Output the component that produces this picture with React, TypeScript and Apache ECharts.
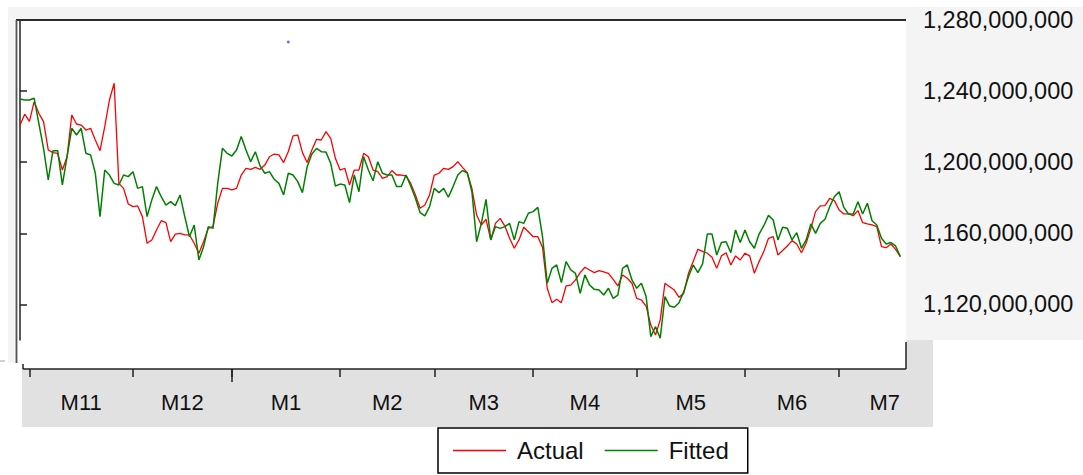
import React, { useEffect, useRef } from "react";
import * as echarts from "echarts";

// Month labels and first-observation index of each month (weekday series)
const monthNames = ["M11", "M12", "M1", "M2", "M3", "M4", "M5", "M6", "M7"];
const monthStarts = [2, 24, 45, 68, 88, 109, 131, 154, 174];
const monthDays = [22, 21, 23, 20, 21, 22, 23, 20, 23];
const yearStarts = [45];
const yTicks = [1120e6, 1160e6, 1200e6, 1240e6, 1280e6];

// Values in millions
const actualM = [
  1221, 1227, 1223, 1234, 1227.5, 1222.8, 1206.9, 1205.4, 1205, 1195.6,
  1203.1, 1226.6, 1221.5, 1220.9, 1218.1, 1219.1, 1212.5, 1206.5, 1220, 1235,
  1244.4, 1188.1, 1185.3, 1176.5, 1175, 1175.4, 1169.4, 1154.4, 1156.3, 1161.9,
  1167.1, 1166, 1155.3, 1159.6, 1160, 1159.1, 1159.1, 1154.4, 1148.8, 1155.3,
  1162.8, 1163.8, 1176.9, 1185.3, 1185.3, 1184.4, 1185.3, 1192.8, 1196.6, 1196,
  1197.1, 1196, 1198.4, 1203.1, 1204.6, 1204.1, 1199.8, 1206, 1214.8, 1215.3,
  1205.4, 1199.8, 1206.9, 1212.9, 1212.5, 1217.2, 1213.4, 1202.2, 1195.6, 1196.6,
  1187.2, 1195.6, 1195.6, 1205, 1203.1, 1195.6, 1194.7, 1190.9, 1191.9, 1195.3,
  1192.8, 1192.8, 1192.3, 1188.1, 1181.6, 1174.1, 1175.9, 1181.6, 1192.8, 1193.8,
  1196.6, 1196, 1197.5, 1200.3, 1197.1, 1194.1, 1185.3, 1170.3, 1164.7, 1167.9,
  1156.3, 1165.6, 1168.4, 1164.1, 1157.2, 1151.6, 1156.3, 1163.4, 1160.9, 1158.1,
  1158.1, 1152.1, 1129.1, 1121, 1122.9, 1121, 1130.4, 1130.9, 1133.8, 1137.9,
  1140.9, 1139.4, 1137.9, 1139, 1138.3, 1137.5, 1134.1, 1130.4, 1136.6, 1134.7,
  1131.9, 1123.4, 1122.5, 1119.1, 1108.4, 1102.8, 1111.3, 1131.9, 1130, 1128.1,
  1124, 1126.3, 1137.5, 1144.1, 1151, 1149.9, 1148.8, 1146.5, 1140.3, 1147.3,
  1149.1, 1142.2, 1147.3, 1145, 1148.8, 1147.3, 1137.5, 1144.1, 1149.7, 1157.2,
  1158.1, 1147.8, 1150.3, 1152.9, 1155.9, 1154, 1149.1, 1154.4, 1162.8, 1172.2,
  1175.4, 1175.6, 1179.7, 1178.4, 1173.1, 1170.9, 1170.9, 1169.9, 1172.8, 1166,
  1165.3, 1164.7, 1163.8, 1152.5, 1151.9, 1154, 1151, 1146.9,
];

const fittedM = [
  1235.6, 1235, 1235, 1236, 1221.9, 1207.8, 1190, 1206.5, 1206.5, 1187.2,
  1203.1, 1219.1, 1215.3, 1219.1, 1205, 1204.1, 1193.8, 1169.4, 1195.6, 1192.8,
  1188.1, 1187.2, 1192.8, 1191.9, 1194.7, 1185.3, 1186.3, 1169.4, 1178.8, 1186.3,
  1180.6, 1175.9, 1177.8, 1175.6, 1181.6, 1169.4, 1158.1, 1164.7, 1145, 1152.5,
  1163.8, 1162.8, 1188.1, 1207.8, 1205, 1203.5, 1206.9, 1214.4, 1206.9, 1200.3,
  1205.9, 1197.9, 1193.8, 1194.7, 1190.4, 1188.1, 1181.6, 1193.8, 1192.8, 1189.1,
  1182.9, 1197.5, 1204.6, 1207.8, 1205.9, 1205.7, 1199.4, 1186.6, 1187.7, 1187.2,
  1177.3, 1192.8, 1183.4, 1203.1, 1195.6, 1189.6, 1200.3, 1193.8, 1192.8, 1192.8,
  1186.3, 1186.3, 1192.8, 1186.6, 1179.7, 1171.6, 1169.8, 1175, 1185.3, 1182.9,
  1185.3, 1180.3, 1186.3, 1192.8, 1195.3, 1194.1, 1183.4, 1155.3, 1165.6, 1179.1,
  1156.3, 1163.8, 1162.8, 1163.8, 1165.6, 1156.3, 1166.6, 1165.6, 1171.3, 1172.2,
  1174.6, 1158.1, 1131.9, 1140.3, 1142.2, 1132.3, 1144.1, 1139.4, 1137.5, 1126.3,
  1136.6, 1130.9, 1128.5, 1128.1, 1125.3, 1129.1, 1123.4, 1125.3, 1140.3, 1142.2,
  1133.8, 1129.1, 1131.9, 1124.4, 1101.9, 1107.5, 1101, 1124.4, 1119.1, 1118.4,
  1121, 1127.2, 1135.6, 1142.2, 1137.9, 1142.8, 1159.6, 1159.6, 1147.8, 1154.8,
  1155.3, 1149.1, 1161.9, 1154.8, 1161.9, 1155.3, 1151.6, 1159.6, 1164.3, 1170.1,
  1167.5, 1156.3, 1163.4, 1162.8, 1156.3, 1160.4, 1151.6, 1156.3, 1165.3, 1160,
  1165.6, 1167.9, 1175, 1180.6, 1183.4, 1174.6, 1170.9, 1170.9, 1177.8, 1170.9,
  1176.9, 1167.1, 1164.7, 1157.2, 1154, 1154.8, 1152.9, 1146.9,
];

// stray blue point in the original picture: [index, value in millions]
const strayPoint = [57, 1267.6];

const FONT = "'Liberation Sans', Arial, sans-serif";

export default function App() {
  const ref = useRef<HTMLDivElement>(null);

  useEffect(() => {
    if (!ref.current) return;
    const chart = echarts.init(ref.current, undefined, { renderer: "svg" });
    const n = actualM.length;
    const xMin = -0.85;
    const xMax = n - 1 + 1.21;
    const lastCenter = n - 1 - 3.3;
    const labelCenters = monthStarts.map((s, k) => Math.min(s + monthDays[k] / 2, lastCenter));
    const labelFor = (v: number) => {
      for (let k = 0; k < labelCenters.length; k++) {
        if (Math.abs(labelCenters[k] - v) < 0.01) return monthNames[k];
      }
      return "";
    };

    const gl = 16, gt = 20, gw = 890, gh = 320;

    chart.setOption({
      animation: false,
      backgroundColor: "#ffffff",
      grid: { left: gl, top: gt, width: gw, height: gh, containLabel: false, outerBoundsMode: "none" },
      xAxis: [
        {
          type: "value",
          min: xMin,
          max: xMax,
          position: "bottom",
          offset: 29,
          splitLine: { show: false },
          axisLine: { show: false },
          axisTick: {
            show: true,
            customValues: monthStarts,
            length: 8,
            lineStyle: { color: "#222", width: 1.5 },
          },
          axisLabel: {
            show: true,
            customValues: labelCenters,
            formatter: (v: number) => labelFor(v),
            fontSize: 22,
            fontFamily: FONT,
            color: "#111",
            margin: 22,
          },
        },
        {
          type: "value",
          min: xMin,
          max: xMax,
          position: "bottom",
          offset: 29,
          splitLine: { show: false },
          axisLine: { show: false },
          axisTick: {
            show: true,
            customValues: yearStarts,
            length: 13,
            lineStyle: { color: "#222", width: 1.5 },
          },
          axisLabel: { show: false },
        },
      ],
      yAxis: {
        type: "value",
        position: "right",
        min: 1100e6,
        max: 1280e6,
        splitLine: { show: false },
        axisLine: { show: true, lineStyle: { color: "#222", width: 1.5 } },
        axisTick: {
          show: true,
          customValues: yTicks,
          length: 7,
          lineStyle: { color: "#222", width: 1.5 },
        },
        axisLabel: {
          show: true,
          customValues: yTicks,
          formatter: (v: number) => Math.round(v).toLocaleString("en-US"),
          fontSize: 23.5,
          fontFamily: FONT,
          color: "#111",
          margin: 17,
        },
      },
      legend: {
        data: [
          { name: "Actual", icon: "rect" },
          { name: "Fitted", icon: "rect" },
        ],
        left: 438,
        top: 428,
        orient: "horizontal",
        padding: [9, 19, 9, 15],
        itemWidth: 53,
        itemHeight: 1.6,
        itemGap: 21,
        borderColor: "#000",
        borderWidth: 1.5,
        backgroundColor: "#fff",
        textStyle: { fontSize: 24, fontFamily: FONT, color: "#111", padding: [0, 0, 0, 6], lineHeight: 27 },
      },
      graphic: [
        { type: "rect", z: -100, shape: { x: 8, y: 7, width: 1075, height: 333 }, style: { fill: "#f4f4f4" }, silent: true },
        { type: "rect", z: -100, shape: { x: 8, y: 340, width: 8, height: 23 }, style: { fill: "#f4f4f4" }, silent: true },
        { type: "rect", z: -99, shape: { x: 22, y: 340, width: 911, height: 87 }, style: { fill: "#e1e1e1" }, silent: true },
        { type: "rect", z: -98, shape: { x: 16, y: 20, width: 890, height: 349 }, style: { fill: "#ffffff" }, silent: true },
        { type: "rect", z: -98, shape: { x: 0, y: 360, width: 5, height: 2 }, style: { fill: "#d0d0d0" }, silent: true },
        { type: "line", z: 50, shape: { x1: 16, y1: 20, x2: 906, y2: 20 }, style: { stroke: "#2a2a2a", lineWidth: 2 }, silent: true },
        { type: "line", z: 50, shape: { x1: 16.5, y1: 20, x2: 16.5, y2: 363 }, style: { stroke: "#555", lineWidth: 1.8 }, silent: true },
        { type: "line", z: 50, shape: { x1: 23, y1: 369, x2: 906, y2: 369 }, style: { stroke: "#222", lineWidth: 1.5 }, silent: true },
        { type: "line", z: 50, shape: { x1: 23, y1: 364, x2: 23, y2: 369 }, style: { stroke: "#222", lineWidth: 1.5 }, silent: true },
        { type: "line", z: 50, shape: { x1: 906, y1: 342, x2: 906, y2: 369 }, style: { stroke: "#222", lineWidth: 1.5 }, silent: true },
      ],
      series: [
        {
          name: "Actual",
          type: "line",
          xAxisIndex: 0,
          data: actualM.map((v, i) => [i, v * 1e6]),
          symbol: "none",
          lineStyle: { color: "#ff0000", width: 1.3 },
          itemStyle: { color: "#ff0000" },
          z: 3,
        },
        {
          name: "Fitted",
          type: "line",
          xAxisIndex: 0,
          data: fittedM.map((v, i) => [i, v * 1e6]),
          symbol: "none",
          lineStyle: { color: "#008000", width: 1.5 },
          itemStyle: { color: "#008000" },
          z: 4,
        },
        {
          name: "stray",
          type: "scatter",
          xAxisIndex: 0,
          data: [[strayPoint[0], strayPoint[1] * 1e6]],
          symbolSize: 3,
          itemStyle: { color: "#4a4aff" },
          z: 5,
        },
      ],
    });
    return () => chart.dispose();
  }, []);

  return (
    <div
      ref={ref}
      style={{ position: "fixed", left: 0, top: 0, width: 1083, height: 475 }}
    />
  );
}
